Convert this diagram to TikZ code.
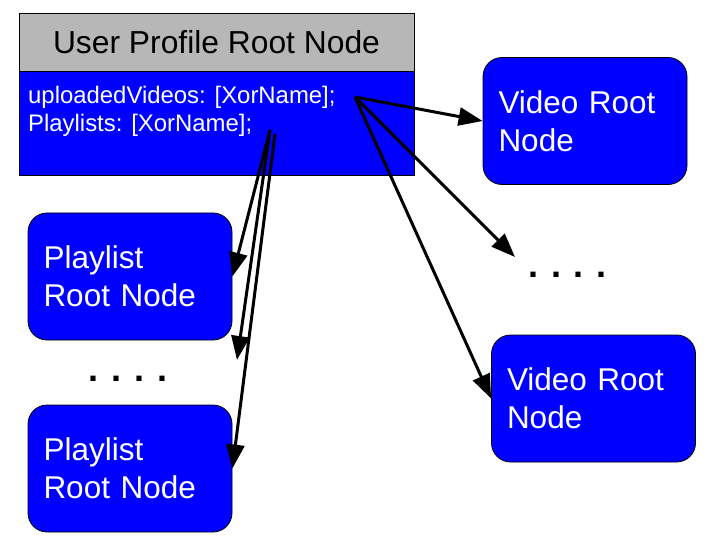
\documentclass[tikz,border=0pt]{standalone}
\usepackage{fontspec}
\setmainfont{Liberation Sans}
\usetikzlibrary{arrows.meta}
\definecolor{hdrgray}{HTML}{B7B7B7}
\definecolor{boxblue}{HTML}{0000FF}
\tikzset{
  rootbox/.style={draw=black, line width=0.8pt, fill=boxblue, rounded corners=19pt,
    minimum width=204pt, minimum height=127pt, inner sep=0pt, text=white,
    align=left, text width=173pt, font=\fontsize{31.5}{38}\selectfont},
  hdrbox/.style={draw=black, line width=0.8pt, fill=hdrgray, minimum width=395pt,
    minimum height=58pt, inner sep=0pt, font=\fontsize{31.8}{38}\selectfont},
  bodybox/.style={draw=black, line width=0.8pt, fill=boxblue, minimum width=395pt,
    minimum height=104pt, inner sep=0pt},
  fieldtext/.style={text=white, inner sep=0pt, align=left, anchor=north west,
    font=\fontsize{23.9}{28}\selectfont},
  dotstext/.style={inner sep=0pt, anchor=base, font=\fontsize{36}{36}\selectfont\bfseries},
  conn/.style={line width=3pt, -{Triangle[length=24pt,width=18pt]}}
}
\begin{document}
\begin{tikzpicture}[x=1pt,y=-1pt]
\useasboundingbox (0,0) rectangle (720,540);
% main user profile box
\node[hdrbox] (hdr) at (216.5,42) {User Profile Root Node};
\node[bodybox] (body) at (216.5,123) {};
\node[fieldtext] (fields) at (28,85.5) {uploadedVideos: [XorName];\\Playlists: [XorName];};
% video root nodes
\node[rootbox] (v1) at (585,121) {Video Root\\Node};
\node[rootbox] (v2) at (593.5,398.5) {Video Root\\Node};
% playlist root nodes
\node[rootbox] (p1) at (130,276.5) {Playlist\\Root Node};
\node[rootbox] (p2) at (130,468.5) {Playlist\\Root Node};
% ellipses
\node[dotstext] (dotsR) at (567.5,277) {.\hspace{12.7pt}.\hspace{12.7pt}.\hspace{12.7pt}.};
\node[dotstext] (dotsL) at (128,381) {.\hspace{12.7pt}.\hspace{12.7pt}.\hspace{12.7pt}.};
% connector anchors
\coordinate (uv) at (355,97);
\coordinate (pl) at (270,130);
\coordinate (plb) at (275,134);
\coordinate (dr) at (515,257);
\coordinate (dl) at (237,360);
% connectors
\draw[conn] (uv) -- (v1.west);
\draw[conn] (uv) -- (dr);
\draw[conn] (uv) -- (v2.west);
\draw[conn] (pl) -- (p1.east);
\draw[conn] (pl) -- (dl);
\draw[conn] (plb) -- (p2.east);
\end{tikzpicture}
\end{document}
